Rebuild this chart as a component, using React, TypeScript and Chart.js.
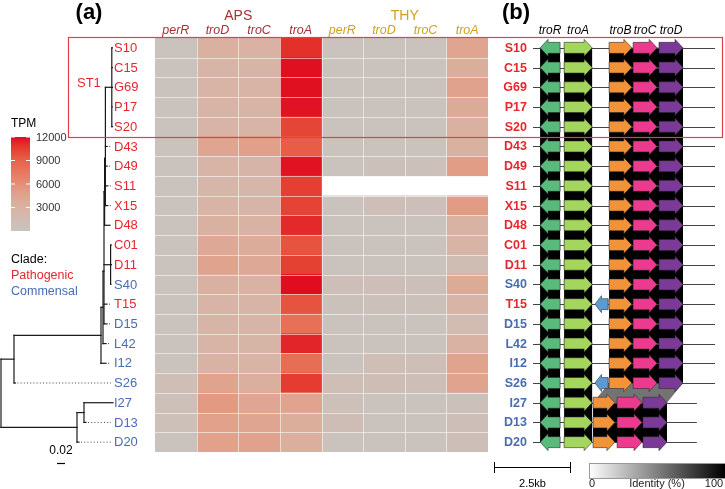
import React, { useEffect, useRef } from "react";
import { Chart, registerables } from "chart.js";
Chart.register(...registerables);

// ---------------- data ----------------
const ROWS = ["S10","C15","G69","P17","S20","D43","D49","S11","X15","D48","C01","D11","S40","T15","D15","L42","I12","S26","I27","D13","D20"];
const CLADE = ["P","P","P","P","P","P","P","P","P","P","P","P","C","P","C","C","C","C","C","C","C"];
const GROUPS = ["APS", "THY"];
const GENE_COLUMNS = ["perR", "troD", "troC", "troA"];

const APS_PERR = [300,300,300,300,300,300,300,300,300,300,300,300,300,300,400,400,400,1100,700,700,300];
const APS_TROD = [3300,2900,2900,2900,2900,4300,2800,2500,2800,3200,4000,4500,3200,2900,2700,2800,3000,4500,5200,4700,4700];
const APS_TROC = [3100,2900,2900,2900,2900,4800,2600,2500,2600,3000,3700,4000,3000,2800,2600,2700,2900,3400,4200,4300,4600];
const APS_TROA = [11000,11900,11900,11800,10200,9200,11800,10500,10300,11200,9600,10400,12000,9600,8000,11300,8200,10600,4500,3600,3400];
const THY_PERR = [300,300,300,300,300,300,300,null,300,300,300,300,900,500,300,300,300,1100,700,1200,300];
const THY_TROD = [400,400,400,400,400,400,600,null,900,400,300,300,900,600,300,300,1100,1200,300,300,300];
const THY_TROC = [400,400,400,400,400,400,600,null,800,400,400,400,800,600,400,400,1000,1000,400,400,400];
const THY_TROA = [4300,3600,4600,3800,3300,3200,5000,null,5100,3000,2900,1400,3800,2900,1500,3100,4500,4500,600,900,900];
const TPM_TICKS = [3000, 6000, 9000, 12000];
const TPM_MAX = 12000;

// tree: internal nodes and leaves (depth = distance from root)
const INTERNAL_NODES = ["root","A","B","E","F","G","H","I","ST1","C","D"];
const INTERNAL_PARENT = [null,"root","A","B","E","F","F","H","I","root","C"];
const INTERNAL_DEPTH = [0,0.0325,0.25,0.255,0.2575,0.274,0.259,0.261,0.277,0.19,0.2075];
const LEAF_PARENT = ["ST1","ST1","ST1","ST1","ST1","I","I","I","I","H","G","G","G","F","F","E","B","A","D","D","C"];
const LEAF_DEPTH = [0.2785,0.2785,0.2785,0.2785,0.2785,0.2655,0.2655,0.267,0.267,0.2725,0.276,0.276,0.2745,0.265,0.265,0.2625,0.2625,0.036,0.28,0.2125,0.195];
const TREE_SCALE = 0.02;

// gene clusters (kb)
const GENE_NAMES = ["troR", "troA", "troB", "troC", "troD"];
const GENE_COLORS = ["#58bb7c", "#a4d65e", "#f29339", "#ec3a8e", "#7b3a97"];
const GENE_STRAND = [-1, 1, 1, 1, 1];
const GENE_START_UPPER = [0.23, 1.01, 2.47, 3.25, 4.09];
const GENE_END_UPPER = [0.88, 1.92, 3.21, 4.03, 4.87];
const GENE_START_LOWER = [0.23, 1.01, 1.95, 2.73, 3.57];
const GENE_END_LOWER = [0.88, 1.92, 2.66, 3.54, 4.35];
const LOWER_LAYOUT_ROWS = ["I27", "D13", "D20"];
const LOCUS_END_UPPER = 5.91;
const LOCUS_END_LOWER = 5.32;
const EXTRA_GENE_ROWS = ["T15", "S26"];
const EXTRA_GENE = { start: 2.01, end: 2.44, strand: -1, color: "#5b9bd5" };
const BLOCK_START_UPPER = [0.23, 1.01, 2.47];
const BLOCK_END_UPPER = [0.88, 1.92, 4.87];
const BLOCK_START_LOWER = [0.23, 1.01, 1.95];
const BLOCK_END_LOWER = [0.88, 1.92, 4.35];
const IDENTITY_EXCEPTION_PAIR = ["S26"]; // pair starting at this row
const IDENTITY_EXCEPTION_BLOCK = [2];
const IDENTITY_EXCEPTION_VALUE = [55];
const KB_SCALE = 2.5;

// ---------------- layout / style ----------------
const W = 725, H = 489;
const PAD = { left: 155, right: 237, top: 38, bottom: 37 };
const TREE_ORIGIN_PX = 1, TREE_PX_PER_UNIT = 400;
const KB_ORIGIN_PX = 533, KB_PX_PER_UNIT = 30.8;
const RED = "#e8262e", BLUE = "#4a6cb3";
const APS_COLOR = "#a92f37", THY_COLOR = "#d1a01f";
const FONT = "'Liberation Sans', Arial, sans-serif";

const COLOR_STOPS: [number, number[]][] = [
  [0, [200, 196, 192]],
  [0.25, [216, 179, 164]],
  [0.4, [225, 160, 138]],
  [0.5, [229, 142, 118]],
  [0.75, [231, 98, 72]],
  [0.9, [228, 55, 45]],
  [1, [224, 12, 32]],
];
function tpmColor(v: number) {
  const t = Math.max(0, Math.min(1, v / TPM_MAX));
  for (let i = 1; i < COLOR_STOPS.length; i++) {
    const [t1, c1] = COLOR_STOPS[i];
    const [t0, c0] = COLOR_STOPS[i - 1];
    if (t <= t1) {
      const f = (t - t0) / (t1 - t0);
      const c = c0.map((a, k) => Math.round(a + (c1[k] - a) * f));
      return `rgb(${c[0]},${c[1]},${c[2]})`;
    }
  }
  return "rgb(224,12,32)";
}

function drawArrow(ctx: CanvasRenderingContext2D, x0: number, x1: number, yc: number, strand: number, color: string) {
  const bh = 5.5, hh = 8.5;
  const hl = Math.min(8, (x1 - x0) * 0.5);
  ctx.beginPath();
  if (strand > 0) {
    ctx.moveTo(x0, yc - bh);
    ctx.lineTo(x1 - hl, yc - bh);
    ctx.lineTo(x1 - hl, yc - hh);
    ctx.lineTo(x1, yc);
    ctx.lineTo(x1 - hl, yc + hh);
    ctx.lineTo(x1 - hl, yc + bh);
    ctx.lineTo(x0, yc + bh);
  } else {
    ctx.moveTo(x1, yc - bh);
    ctx.lineTo(x0 + hl, yc - bh);
    ctx.lineTo(x0 + hl, yc - hh);
    ctx.lineTo(x0, yc);
    ctx.lineTo(x0 + hl, yc + hh);
    ctx.lineTo(x0 + hl, yc + bh);
    ctx.lineTo(x1, yc + bh);
  }
  ctx.closePath();
  ctx.fillStyle = color;
  ctx.fill();
  ctx.strokeStyle = "rgba(40,40,40,0.8)";
  ctx.lineWidth = 0.7;
  ctx.stroke();
}

const overlayPlugin = {
  id: "overlay",
  afterDatasetsDraw(chart: any) {
    const ctx: CanvasRenderingContext2D = chart.ctx;
    const ys = chart.scales.y;
    const xh = chart.scales.x;
    const rowH = ys.getPixelForValue(1) - ys.getPixelForValue(0);
    ctx.save();
    ctx.strokeStyle = "rgba(255,255,255,0.55)";
    ctx.lineWidth = 1;
    for (let c = 1; c < 8; c++) {
      const x = Math.round(xh.getPixelForValue(c)) + 0.5;
      ctx.beginPath();
      ctx.moveTo(x, ys.getPixelForValue(0) - rowH / 2);
      ctx.lineTo(x, ys.getPixelForValue(ROWS.length - 1) + rowH / 2);
      ctx.stroke();
    }
    for (let r = 1; r < ROWS.length; r++) {
      const y = Math.round(ys.getPixelForValue(r) - rowH / 2) + 0.5;
      ctx.beginPath();
      ctx.moveTo(xh.getPixelForValue(0), y);
      ctx.lineTo(xh.getPixelForValue(8), y);
      ctx.stroke();
    }
    ctx.restore();
  },
  afterDraw(chart: any) {
    const ctx: CanvasRenderingContext2D = chart.ctx;
    const ys = chart.scales.y;
    const xh = chart.scales.x;
    const xt = chart.scales.xTree;
    const xk = chart.scales.xKb;
    const rowY = (i: number) => ys.getPixelForValue(i);
    const rowH = rowY(1) - rowY(0);
    const cladeColor = (i: number) => (CLADE[i] === "P" ? RED : BLUE);
    ctx.save();

    // ---- panel labels
    ctx.fillStyle = "#000";
    ctx.font = `bold 22px ${FONT}`;
    ctx.textAlign = "center";
    ctx.textBaseline = "middle";
    ctx.fillText("(a)", 89, 13);
    ctx.fillText("(b)", 516, 13);

    // ---- heatmap headers
    GROUPS.forEach((g, gi) => {
      const col = gi === 0 ? APS_COLOR : THY_COLOR;
      ctx.fillStyle = col;
      ctx.font = `14px ${FONT}`;
      ctx.fillText(g, xh.getPixelForValue(gi * 4 + 2), 16);
      ctx.font = `italic 12.5px ${FONT}`;
      GENE_COLUMNS.forEach((gc, ci) => {
        ctx.fillText(gc, xh.getPixelForValue(gi * 4 + ci + 0.5), 30.5);
      });
    });

    // ---- tree
    const nodeDepth: Record<string, number> = {};
    const nodeParent: Record<string, string | null> = {};
    const children: Record<string, string[]> = {};
    INTERNAL_NODES.forEach((n, i) => {
      nodeDepth[n] = INTERNAL_DEPTH[i];
      nodeParent[n] = INTERNAL_PARENT[i];
    });
    ROWS.forEach((n, i) => {
      nodeDepth[n] = LEAF_DEPTH[i];
      nodeParent[n] = LEAF_PARENT[i];
    });
    Object.keys(nodeParent).forEach((n) => {
      const p = nodeParent[n];
      if (p) (children[p] = children[p] || []).push(n);
    });
    const nodeY: Record<string, number> = {};
    const getY = (n: string): number => {
      if (nodeY[n] !== undefined) return nodeY[n];
      const li = ROWS.indexOf(n);
      if (li >= 0) return (nodeY[n] = rowY(li));
      const ch = children[n];
      const v = ch.reduce((s, c) => s + getY(c), 0) / ch.length;
      return (nodeY[n] = v);
    };
    Object.keys(nodeParent).forEach((n) => getY(n));
    ctx.strokeStyle = "#1a1a1a";
    ctx.lineWidth = 1.2;
    ctx.lineCap = "square";
    Object.keys(nodeParent).forEach((n) => {
      const p = nodeParent[n];
      if (p) {
        ctx.beginPath();
        ctx.moveTo(xt.getPixelForValue(nodeDepth[p]), nodeY[n]);
        ctx.lineTo(xt.getPixelForValue(nodeDepth[n]), nodeY[n]);
        ctx.stroke();
      }
      const ch = children[n];
      if (ch) {
        const yv = ch.map((c) => nodeY[c]);
        ctx.beginPath();
        ctx.moveTo(xt.getPixelForValue(nodeDepth[n]), Math.min(...yv));
        ctx.lineTo(xt.getPixelForValue(nodeDepth[n]), Math.max(...yv));
        ctx.stroke();
      }
    });
    // dotted alignment lines and leaf labels
    const alignX = 111;
    ctx.lineCap = "butt";
    ROWS.forEach((r, i) => {
      const tx = xt.getPixelForValue(LEAF_DEPTH[i]);
      if (tx < alignX - 1.5) {
        ctx.save();
        ctx.strokeStyle = "#444";
        ctx.lineWidth = 1;
        ctx.setLineDash([1, 2.2]);
        ctx.beginPath();
        ctx.moveTo(tx + 2, rowY(i));
        ctx.lineTo(alignX, rowY(i));
        ctx.stroke();
        ctx.restore();
      }
      ctx.fillStyle = cladeColor(i);
      ctx.font = `13px ${FONT}`;
      ctx.textAlign = "left";
      ctx.textBaseline = "middle";
      ctx.fillText(r, 114, rowY(i) + 0.5);
    });
    // tree scale bar
    const sb0 = 57;
    const sbLen = xt.getPixelForValue(TREE_SCALE) - xt.getPixelForValue(0);
    ctx.strokeStyle = "#000";
    ctx.lineWidth = 1.2;
    ctx.beginPath();
    ctx.moveTo(sb0, 463.5);
    ctx.lineTo(sb0 + sbLen, 463.5);
    ctx.stroke();
    ctx.fillStyle = "#000";
    ctx.font = `12px ${FONT}`;
    ctx.textAlign = "center";
    ctx.fillText(String(TREE_SCALE), sb0 + sbLen / 2, 451);

    // ST1 label
    ctx.fillStyle = RED;
    ctx.font = `13px ${FONT}`;
    ctx.textAlign = "left";
    ctx.fillText("ST1", 77, (rowY(0) + rowY(4)) / 2 - 4);

    // ---- TPM legend
    const lgTop = 137, lgBot = 231, lgX = 11, lgW = 19;
    const vToY = (v: number) => lgBot - (v / TPM_MAX) * (lgBot - lgTop);
    const grad = ctx.createLinearGradient(0, lgBot, 0, lgTop);
    for (let k = 0; k <= 20; k++) grad.addColorStop(k / 20, tpmColor((k / 20) * TPM_MAX));
    ctx.fillStyle = grad;
    ctx.fillRect(lgX, lgTop, lgW, lgBot - lgTop);
    ctx.fillStyle = "#000";
    ctx.font = `12px ${FONT}`;
    ctx.textAlign = "left";
    ctx.fillText("TPM", lgX, 124);
    ctx.font = `11px ${FONT}`;
    ctx.fillStyle = "#333";
    TPM_TICKS.forEach((t) => {
      const y = vToY(t);
      ctx.strokeStyle = "#fff";
      ctx.lineWidth = 1;
      ctx.beginPath();
      ctx.moveTo(lgX, y); ctx.lineTo(lgX + 4, y);
      ctx.moveTo(lgX + lgW - 4, y); ctx.lineTo(lgX + lgW, y);
      ctx.stroke();
      ctx.fillText(String(t), 36, y + 0.5);
    });
    // clade legend
    ctx.font = `12.5px ${FONT}`;
    ctx.fillStyle = "#000";
    ctx.fillText("Clade:", 11, 260);
    ctx.fillStyle = RED;
    ctx.fillText("Pathogenic", 11, 276);
    ctx.fillStyle = BLUE;
    ctx.fillText("Commensal", 11, 292);

    // ---- panel (b): comparisons
    const isLower = (r: string) => LOWER_LAYOUT_ROWS.includes(r);
    for (let i = 0; i < ROWS.length - 1; i++) {
      const a = ROWS[i], b = ROWS[i + 1];
      const ya = rowY(i), yb = rowY(i + 1);
      for (let k = 0; k < BLOCK_START_UPPER.length; k++) {
        const sa = isLower(a) ? BLOCK_START_LOWER[k] : BLOCK_START_UPPER[k];
        const ea = isLower(a) ? BLOCK_END_LOWER[k] : BLOCK_END_UPPER[k];
        const sb = isLower(b) ? BLOCK_START_LOWER[k] : BLOCK_START_UPPER[k];
        const eb = isLower(b) ? BLOCK_END_LOWER[k] : BLOCK_END_UPPER[k];
        let ident = 100;
        IDENTITY_EXCEPTION_PAIR.forEach((p, pi) => {
          if (p === a && IDENTITY_EXCEPTION_BLOCK[pi] === k) ident = IDENTITY_EXCEPTION_VALUE[pi];
        });
        const g = Math.round(255 * (1 - ident / 100));
        ctx.fillStyle = `rgb(${g},${g},${g})`;
        ctx.beginPath();
        ctx.moveTo(xk.getPixelForValue(sa), ya);
        ctx.lineTo(xk.getPixelForValue(ea), ya);
        ctx.lineTo(xk.getPixelForValue(eb), yb);
        ctx.lineTo(xk.getPixelForValue(sb), yb);
        ctx.closePath();
        ctx.fill();
      }
    }
    // locus lines, arrows, labels
    ROWS.forEach((r, i) => {
      const y = rowY(i);
      const low = isLower(r);
      ctx.strokeStyle = "#444";
      ctx.lineWidth = 1;
      ctx.beginPath();
      ctx.moveTo(xk.getPixelForValue(0), Math.round(y) + 0.5);
      ctx.lineTo(xk.getPixelForValue(low ? LOCUS_END_LOWER : LOCUS_END_UPPER), Math.round(y) + 0.5);
      ctx.stroke();
      GENE_NAMES.forEach((g, gi) => {
        const s = low ? GENE_START_LOWER[gi] : GENE_START_UPPER[gi];
        const e = low ? GENE_END_LOWER[gi] : GENE_END_UPPER[gi];
        drawArrow(ctx, xk.getPixelForValue(s), xk.getPixelForValue(e), y, GENE_STRAND[gi], GENE_COLORS[gi]);
      });
      if (EXTRA_GENE_ROWS.includes(r)) {
        drawArrow(ctx, xk.getPixelForValue(EXTRA_GENE.start), xk.getPixelForValue(EXTRA_GENE.end), y, EXTRA_GENE.strand, EXTRA_GENE.color);
      }
      ctx.fillStyle = cladeColor(i);
      ctx.font = `bold 12.5px ${FONT}`;
      ctx.textAlign = "right";
      ctx.textBaseline = "middle";
      ctx.fillText(r, 527, y + 0.5);
    });
    // gene names
    ctx.fillStyle = "#000";
    ctx.font = `italic 12px ${FONT}`;
    ctx.textAlign = "center";
    GENE_NAMES.forEach((g, gi) => {
      const cx = xk.getPixelForValue((GENE_START_UPPER[gi] + GENE_END_UPPER[gi]) / 2);
      ctx.fillText(g, cx, 30.5);
    });
    // kb scale bar
    const kb0 = 494;
    const kbLen = xk.getPixelForValue(KB_SCALE) - xk.getPixelForValue(0);
    ctx.strokeStyle = "#000";
    ctx.lineWidth = 1;
    ctx.beginPath();
    ctx.moveTo(kb0, 467.5); ctx.lineTo(kb0 + kbLen, 467.5);
    ctx.moveTo(kb0 + 0.5, 462); ctx.lineTo(kb0 + 0.5, 473);
    ctx.moveTo(kb0 + kbLen - 0.5, 462); ctx.lineTo(kb0 + kbLen - 0.5, 473);
    ctx.stroke();
    ctx.font = `11px ${FONT}`;
    ctx.fillText(`${KB_SCALE}kb`, kb0 + kbLen / 2, 484);
    // identity bar
    const ig = ctx.createLinearGradient(589, 0, 725, 0);
    ig.addColorStop(0, "#ffffff");
    ig.addColorStop(1, "#000000");
    ctx.fillStyle = ig;
    ctx.fillRect(589, 463, 140, 15);
    ctx.strokeStyle = "#999";
    ctx.strokeRect(589.5, 463.5, 140, 15);
    ctx.fillStyle = "#222";
    ctx.font = `11px ${FONT}`;
    ctx.fillText("0", 592, 484);
    ctx.fillText("Identity (%)", 657, 484);
    ctx.fillText("100", 714, 484);

    // ---- ST1 highlight box
    ctx.strokeStyle = "#e2404a";
    ctx.lineWidth = 1.2;
    const boxTop = Math.round(rowY(0) - rowH / 2) - 0.5;
    const boxBot = Math.round(rowY(4) + rowH / 2) + 0.5;
    ctx.strokeRect(68.5, boxTop, 654, boxBot - boxTop);

    ctx.restore();
  },
};

const COLUMN_VALUES = [APS_PERR, APS_TROD, APS_TROC, APS_TROA, THY_PERR, THY_TROD, THY_TROC, THY_TROA];

export default function App() {
  const ref = useRef<HTMLCanvasElement>(null);
  useEffect(() => {
    document.body.style.margin = "0";
    const canvas = ref.current!;
    const areaLeft = PAD.left, areaRight = W - PAD.right;
    const chart = new Chart(canvas, {
      type: "bar",
      data: {
        labels: ROWS,
        datasets: COLUMN_VALUES.map((vals, c) => ({
          label: `${GROUPS[Math.floor(c / 4)]} ${GENE_COLUMNS[c % 4]}`,
          data: vals.map((v) => (v == null ? null : 1)),
          backgroundColor: vals.map((v) => (v == null ? "rgba(0,0,0,0)" : tpmColor(v))),
          borderWidth: 0,
          barPercentage: 1,
          categoryPercentage: 1,
          stack: "heat",
        })),
      },
      options: {
        indexAxis: "y",
        animation: false,
        responsive: false,
        maintainAspectRatio: false,
        layout: { padding: PAD },
        plugins: { legend: { display: false }, tooltip: { enabled: false } },
        scales: {
          x: { type: "linear", stacked: true, min: 0, max: 8, display: false },
          y: { type: "category", stacked: true, display: false },
          xTree: {
            type: "linear", axis: "x", display: false,
            min: (areaLeft - TREE_ORIGIN_PX) / TREE_PX_PER_UNIT,
            max: (areaRight - TREE_ORIGIN_PX) / TREE_PX_PER_UNIT,
          },
          xKb: {
            type: "linear", axis: "x", display: false,
            min: (areaLeft - KB_ORIGIN_PX) / KB_PX_PER_UNIT,
            max: (areaRight - KB_ORIGIN_PX) / KB_PX_PER_UNIT,
          },
        } as any,
      },
      plugins: [overlayPlugin],
    } as any);
    return () => chart.destroy();
  }, []);
  return <canvas ref={ref} width={W} height={H} style={{ display: "block", width: W, height: H }} />;
}
